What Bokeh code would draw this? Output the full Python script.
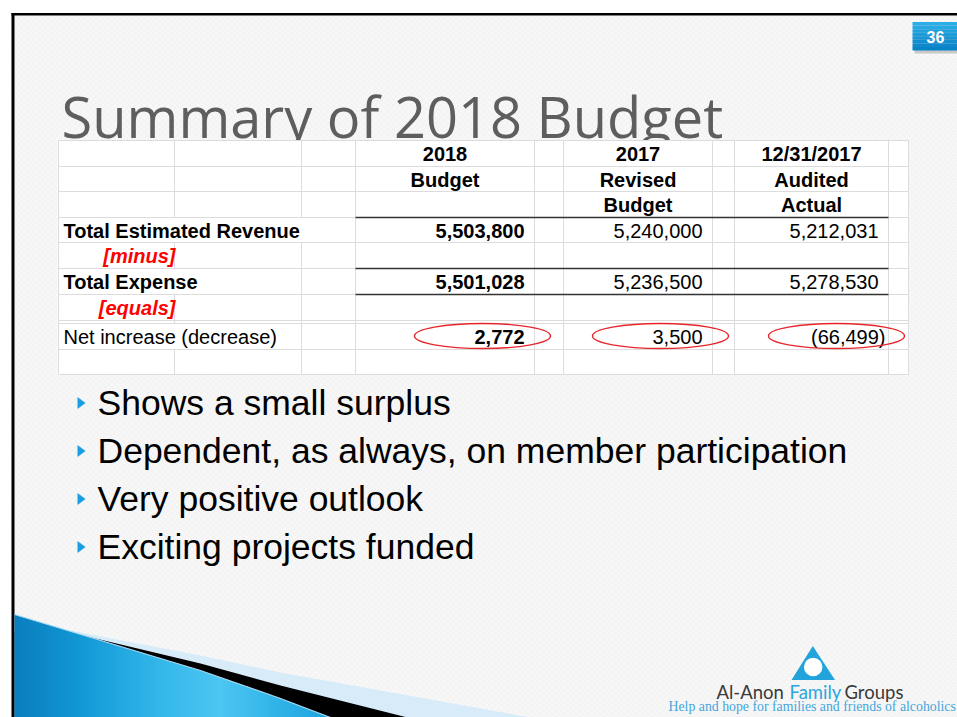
import numpy as np
from bokeh.plotting import figure
from bokeh.models import Range1d
from bokeh.core.properties import value
from bokeh.embed import file_html
from bokeh.resources import INLINE

# ---------------- data ----------------
title = "Summary of 2018 Budget"
slide_number = "36"
column_years = ["2018", "2017", "12/31/2017"]
column_kinds = [["Budget"], ["Revised", "Budget"], ["Audited", "Actual"]]
row_labels = ["Total Estimated Revenue", "[minus]", "Total Expense", "[equals]", "Net increase (decrease)"]
revenue = [5503800, 5240000, 5212031]
expense = [5501028, 5236500, 5278530]
net = [2772, 3500, -66499]
bullets = ["Shows a small surplus",
           "Dependent, as always, on member participation",
           "Very positive outlook",
           "Exciting projects funded"]
org_words = ["Al-Anon", "Family", "Groups"]
tagline = "Help and hope for families and friends of alcoholics"

# ---------------- layout (reference pixel space) ----------------
W, H = 957, 717
p = figure(width=W, height=H, x_range=Range1d(0, W), y_range=Range1d(H, 0),
           output_backend="svg", toolbar_location=None, min_border=0,
           x_axis_location=None, y_axis_location=None,
           background_fill_color="white", border_fill_color="white", outline_line_color=None)
p.grid.visible = False

SANS = value("Liberation Sans")

# slide background with faint texture
p.quad(left=14, right=W, top=15, bottom=H, fill_color="#f7f7f7", line_color=None,
       hatch_pattern="diagonal_cross", hatch_color="#ececec", hatch_scale=6, hatch_weight=0.6)
# slide frame
p.quad(left=11, right=W, top=12.5, bottom=15, fill_color="black", line_color=None)
p.quad(left=11, right=14, top=12.5, bottom=H, fill_color="black", line_color=None)

# slide number badge
p.quad(left=914, right=W, top=25, bottom=53, fill_color="black", fill_alpha=0.18, line_color=None)
bt, bb = 21.5, 50.0
nb = 8
bedges = np.linspace(bt, bb, nb + 1)
c_top = np.array([0x2e, 0xb2, 0xea]); c_bot = np.array([0x06, 0x80, 0xc6])
bcols = ["#%02x%02x%02x" % tuple((c_top + (c_bot - c_top) * (i + 0.5) / nb).astype(int)) for i in range(nb)]
p.quad(left=912, right=W, top=bedges[:-1], bottom=bedges[1:], fill_color=bcols, line_color=None)
p.text(x=[935], y=[36.5], text=[slide_number], text_font=SANS, text_font_style="bold",
       text_font_size=value("16px"), text_color="white", text_align="center", text_baseline="middle")

# title (drawn before table, so the table clips its descenders)
p.text(x=[61], y=[115], text=[title], text_font=value("Open Sans"), text_font_size=value("56px"),
       text_color="#5e5e5e", text_align="left", text_baseline="middle")

# ---------------- table ----------------
col_edges = [58, 174, 301, 355, 534, 563, 712, 734, 888, 908]
row_spans = [(140, 166), (166, 191), (191, 217), (217, 242), (242, 268), (268, 294),
             (294, 320), (320, 323), (323, 349), (349, 374)]
value_cols = [(355, 534), (563, 712), (734, 888)]

p.quad(left=57, right=908.5, top=139.5, bottom=374.5, fill_color="white", line_color=None)

# hidden vertical borders where label text overflows (row index, x)
hidden = {(3, 174), (3, 301), (5, 174), (8, 174)}
vx0, vy0, vx1, vy1 = [], [], [], []
for ri, (t, b) in enumerate(row_spans):
    for x in col_edges:
        if (ri, x) in hidden:
            continue
        vx0.append(x); vx1.append(x); vy0.append(t); vy1.append(b)
p.segment(x0=vx0, y0=vy0, x1=vx1, y1=vy1, line_color="#dcdcdc", line_width=1)
hy = sorted(set([t for t, b in row_spans] + [b for t, b in row_spans]))
p.segment(x0=[58] * len(hy), y0=hy, x1=[908] * len(hy), y1=hy, line_color="#dcdcdc", line_width=1)
# dark rules
dark_y = [217, 268, 294]
p.segment(x0=[355] * 3, y0=dark_y, x1=[888] * 3, y1=dark_y, line_color="#333333", line_width=1.3)

def rc(ri):
    t, b = row_spans[ri]
    return (t + b) / 2.0 + 0.5

FS = value("20px")
# headers
hx, hy_, ht = [], [], []
for i, (l, r) in enumerate(value_cols):
    lines = [column_years[i]] + column_kinds[i]
    for j, s in enumerate(lines):
        hx.append((l + r) / 2.0); hy_.append(rc(j)); ht.append(s)
p.text(x=hx, y=hy_, text=ht, text_font=SANS, text_font_style="bold", text_font_size=FS,
       text_color="black", text_align="center", text_baseline="middle")

# row labels
label_rows = [3, 4, 5, 6, 8]
bold_lbl = [0, 2]
red_lbl = [1, 3]
p.text(x=[63] * 2, y=[rc(label_rows[k]) for k in bold_lbl], text=[row_labels[k] for k in bold_lbl],
       text_font=SANS, text_font_style="bold", text_font_size=FS, text_color="black",
       text_align="left", text_baseline="middle")
p.text(x=[175] * 2, y=[rc(label_rows[k]) for k in red_lbl], text=[row_labels[k] for k in red_lbl],
       text_font=SANS, text_font_style="bold italic", text_font_size=FS, text_color="#ff0000",
       text_align="right", text_baseline="middle")
p.text(x=[63], y=[rc(label_rows[4])], text=[row_labels[4]],
       text_font=SANS, text_font_style="normal", text_font_size=FS, text_color="black",
       text_align="left", text_baseline="middle")

def fmt(v):
    return "({:,})".format(abs(v)) if v < 0 else "{:,}".format(v)

series_rows = [(revenue, 3), (expense, 5), (net, 8)]
bx, by, btxt, nx, ny, ntxt = [], [], [], [], [], []
for vals, ri in series_rows:
    for i, v in enumerate(vals):
        r = value_cols[i][1]
        x = r - 10 + (7 if v < 0 else 0)
        if i == 0:
            bx.append(x); by.append(rc(ri)); btxt.append(fmt(v))
        else:
            nx.append(x); ny.append(rc(ri)); ntxt.append(fmt(v))
p.text(x=bx, y=by, text=btxt, text_font=SANS, text_font_style="bold", text_font_size=FS,
       text_color="black", text_align="right", text_baseline="middle")
p.text(x=nx, y=ny, text=ntxt, text_font=SANS, text_font_style="normal", text_font_size=FS,
       text_color="black", text_align="right", text_baseline="middle")

# red ellipses around net results
ex = [value_cols[i][1] - 52 for i in range(3)]
p.ellipse(x=ex, y=[335.5] * 3, width=136, height=25, width_units="screen", height_units="screen",
          fill_color=None, line_color="#e8262a", line_width=1.4)

# ---------------- bullets ----------------
line_y = [402.5, 450.5, 498.5, 546.5]
txs, tys = [], []
for cy in line_y:
    txs.append([77, 85, 77]); tys.append([cy - 6, cy, cy + 6])
p.patches(xs=txs, ys=tys, fill_color="#1a9fe0", line_color=None)
p.text(x=[97] * 4, y=line_y, text=bullets, text_font=SANS, text_font_size=value("35.5px"),
       text_color="black", text_align="left", text_baseline="middle")

# ---------------- bottom-left swoosh ----------------
light_x = [70, 200, 280, 530]; light_y = [630, 655, 672, 717]
black_x = [70, 200, 280, 407]; black_y = [632, 663, 685, 717]
blue_x = [14, 200, 280, 330]; blue_y = [614, 670, 698, 717]
p.patch(x=light_x + [14, 14], y=light_y + [717, 633], fill_color="#d8ebf9", line_color=None)
p.patch(x=black_x + [14, 14], y=black_y + [717, 632], fill_color="#000000", line_color=None)
stops_x = [14, 80, 160, 220, 280, 330]
stops_c = np.array([[0x0b, 0x7e, 0xbe], [0x12, 0x98, 0xd5], [0x34, 0xb8, 0xeb],
                    [0x4c, 0xc6, 0xf2], [0x30, 0xb2, 0xe8], [0x1e, 0xa4, 0xdf]])
xs_g = np.arange(14, 331, 4.0)
gxs, gys, gcs = [], [], []
for a, b in zip(xs_g[:-1], xs_g[1:]):
    b2 = min(b + 0.8, 330)
    ta, tb = np.interp(a, blue_x, blue_y), np.interp(b2, blue_x, blue_y)
    gxs.append([a, b2, b2, a]); gys.append([ta, tb, 717, 717])
    m = (a + b) / 2
    c = [int(np.interp(m, stops_x, stops_c[:, k])) for k in range(3)]
    gcs.append("#%02x%02x%02x" % tuple(c))
p.patches(xs=gxs, ys=gys, fill_color=gcs, line_color=None)
p.line(x=blue_x, y=blue_y, line_color="#a6dbf3", line_width=1.2)

# ---------------- logo ----------------
p.patch(x=[812.3, 791, 834.5], y=[645.5, 679.5, 679.5], fill_color="#22a3dc", line_color=None)
p.scatter(x=[812.7], y=[666.5], size=18.5, marker="circle", fill_color="white", line_color=None)
p.text(x=[716, 789, 844], y=[691, 691, 691], text=org_words, text_font=value("Lato"),
       text_font_size=value("18.5px"), text_color=["#3a3a3a", "#2aa6df", "#3a3a3a"],
       text_align="left", text_baseline="middle")
p.text(x=[668], y=[705.5], text=[tagline], text_font=value("Liberation Serif"),
       text_font_size=value("13.8px"), text_color="#45a6da", text_align="left",
       text_baseline="middle")

open("out.html", "w").write(file_html(p, INLINE))
